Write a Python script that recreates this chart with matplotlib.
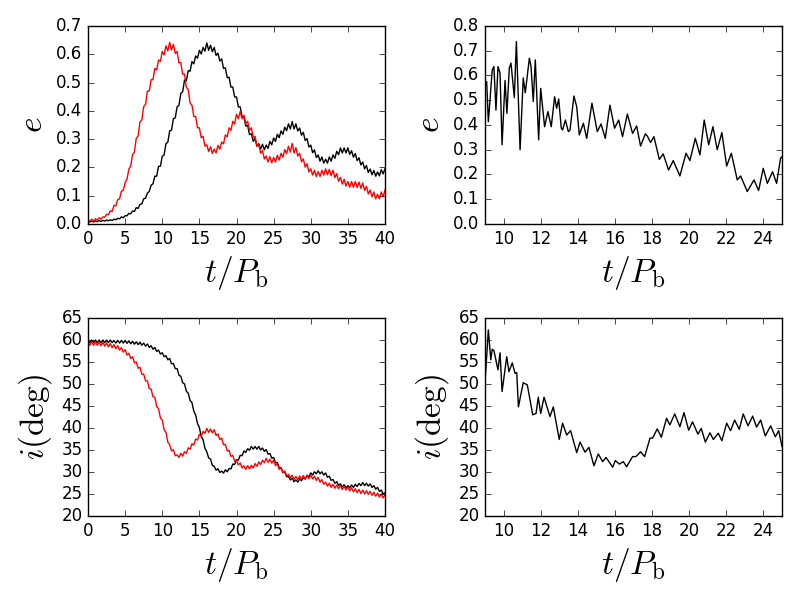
import numpy as np
import matplotlib
matplotlib.use('Agg')
import matplotlib.pyplot as plt

# left column: sampled every 0.25 P_b from 0 to 40
t_long = np.linspace(0, 40, 161)

e_black = [0.010, 0.007, 0.010, 0.007, 0.011, 0.008, 0.012, 0.009,
           0.013, 0.010, 0.014, 0.011, 0.015, 0.012, 0.017, 0.015,
           0.020, 0.018, 0.025, 0.022, 0.029, 0.029, 0.037, 0.036,
           0.046, 0.044, 0.058, 0.055, 0.069, 0.071, 0.089, 0.091,
           0.109, 0.115, 0.137, 0.142, 0.169, 0.169, 0.204, 0.204,
           0.239, 0.244, 0.284, 0.289, 0.329, 0.332, 0.372, 0.375,
           0.414, 0.420, 0.462, 0.467, 0.509, 0.507, 0.542, 0.540,
           0.574, 0.566, 0.594, 0.586, 0.614, 0.601, 0.624, 0.611,
           0.640, 0.614, 0.632, 0.609, 0.624, 0.596, 0.604, 0.576,
           0.584, 0.550, 0.552, 0.517, 0.519, 0.484, 0.484, 0.449,
           0.449, 0.414, 0.414, 0.379, 0.379, 0.346, 0.349, 0.316,
           0.319, 0.292, 0.302, 0.275, 0.284, 0.265, 0.282, 0.262,
           0.279, 0.267, 0.292, 0.280, 0.304, 0.292, 0.317, 0.305,
           0.329, 0.317, 0.342, 0.330, 0.354, 0.336, 0.362, 0.336,
           0.354, 0.329, 0.339, 0.314, 0.324, 0.295, 0.302, 0.272,
           0.279, 0.252, 0.262, 0.235, 0.244, 0.222, 0.237, 0.215,
           0.229, 0.215, 0.237, 0.222, 0.244, 0.232, 0.257, 0.245,
           0.269, 0.251, 0.269, 0.251, 0.269, 0.246, 0.259, 0.236,
           0.249, 0.224, 0.234, 0.209, 0.219, 0.195, 0.207, 0.182,
           0.194, 0.174, 0.189, 0.169, 0.184, 0.170, 0.192, 0.177,
           0.195]

e_red = [0.015, 0.010, 0.017, 0.011, 0.018, 0.014, 0.022, 0.017,
         0.025, 0.024, 0.034, 0.033, 0.046, 0.044, 0.066, 0.064,
         0.086, 0.089, 0.116, 0.119, 0.146, 0.158, 0.194, 0.205,
         0.245, 0.254, 0.303, 0.311, 0.360, 0.368, 0.415, 0.423,
         0.470, 0.470, 0.510, 0.510, 0.550, 0.545, 0.580, 0.575,
         0.610, 0.598, 0.630, 0.612, 0.642, 0.615, 0.635, 0.603,
         0.610, 0.570, 0.570, 0.530, 0.530, 0.483, 0.475, 0.428,
         0.420, 0.380, 0.380, 0.340, 0.340, 0.305, 0.310, 0.275,
         0.280, 0.256, 0.273, 0.249, 0.265, 0.251, 0.278, 0.264,
         0.290, 0.283, 0.315, 0.308, 0.340, 0.331, 0.363, 0.354,
         0.388, 0.372, 0.398, 0.372, 0.385, 0.354, 0.363, 0.331,
         0.340, 0.305, 0.310, 0.275, 0.280, 0.250, 0.260, 0.230,
         0.240, 0.219, 0.238, 0.216, 0.235, 0.219, 0.243, 0.226,
         0.250, 0.236, 0.263, 0.249, 0.275, 0.254, 0.285, 0.251,
         0.270, 0.240, 0.250, 0.220, 0.230, 0.201, 0.213, 0.184,
         0.195, 0.173, 0.190, 0.168, 0.185, 0.168, 0.190, 0.173,
         0.195, 0.174, 0.193, 0.171, 0.190, 0.164, 0.178, 0.151,
         0.165, 0.141, 0.158, 0.134, 0.150, 0.130, 0.150, 0.130,
         0.150, 0.129, 0.148, 0.126, 0.145, 0.119, 0.133, 0.106,
         0.120, 0.096, 0.113, 0.089, 0.105, 0.089, 0.113, 0.096,
         0.120]

inc_black = [60.0, 59.4, 60.0, 59.4, 60.0, 59.4, 60.0, 59.4,
             60.0, 59.4, 60.0, 59.4, 60.0, 59.4, 59.9, 59.3,
             59.9, 59.3, 59.9, 59.3, 59.9, 59.25, 59.8, 59.15,
             59.7, 59.05, 59.6, 58.95, 59.5, 58.8, 59.3, 58.6,
             59.1, 58.3, 58.7, 57.9, 58.3, 57.4, 57.7, 56.8,
             57.1, 56.2, 56.45, 55.5, 55.8, 54.6, 54.65, 53.5,
             53.5, 52.0, 51.75, 50.3, 50.0, 48.35, 47.9, 46.25,
             45.8, 43.8, 42.95, 41.0, 40.1, 38.1, 37.35, 35.4,
             34.6, 33.2, 32.95, 31.5, 31.3, 30.4, 30.75, 29.9,
             30.2, 29.75, 30.5, 30.05, 30.8, 30.7, 31.8, 31.7,
             32.8, 32.7, 33.8, 33.7, 34.8, 34.45, 35.3, 34.95,
             35.8, 35.2, 35.8, 35.2, 35.8, 35.0, 35.45, 34.7,
             35.1, 34.05, 34.2, 33.15, 33.3, 32.1, 32.15, 30.95,
             31.0, 29.9, 30.0, 28.9, 29.0, 28.2, 28.6, 27.8,
             28.2, 27.7, 28.45, 28.0, 28.7, 28.4, 29.25, 28.9,
             29.8, 29.3, 30.05, 29.6, 30.3, 29.6, 30.05, 29.3,
             29.8, 28.8, 29.05, 28.1, 28.3, 27.45, 27.8, 26.95,
             27.3, 26.6, 27.1, 26.4, 26.9, 26.4, 27.05, 26.5,
             27.2, 26.7, 27.4, 26.9, 27.6, 26.9, 27.45, 26.8,
             27.3, 26.5, 26.9, 26.1, 26.5, 25.6, 25.9, 25.0,
             25.3]

inc_red = [59.6, 58.8, 59.6, 58.8, 59.6, 58.8, 59.55, 58.7,
           59.5, 58.6, 59.35, 58.45, 59.2, 58.25, 58.95, 58.0,
           58.7, 57.7, 58.25, 57.25, 57.8, 56.6, 57.0, 55.8,
           56.2, 54.8, 55.0, 53.6, 53.8, 52.2, 52.25, 50.7,
           50.7, 48.95, 48.85, 47.1, 47.0, 44.9, 44.4, 42.3,
           41.8, 39.6, 39.0, 36.8, 36.2, 34.8, 35.05, 33.7,
           33.9, 33.3, 34.25, 33.6, 34.6, 34.25, 35.5, 35.2,
           36.4, 36.15, 37.5, 37.25, 38.6, 38.1, 39.25, 38.8,
           39.9, 39.0, 39.75, 38.9, 39.6, 38.3, 38.65, 37.4,
           37.7, 36.2, 36.3, 34.8, 34.9, 33.55, 33.8, 32.45,
           32.7, 31.6, 32.05, 30.9, 31.4, 30.6, 31.45, 30.7,
           31.5, 30.9, 31.9, 31.3, 32.3, 31.7, 32.7, 32.1,
           33.1, 32.2, 32.9, 32.0, 32.7, 31.45, 31.85, 30.6,
           31.0, 29.8, 30.25, 29.1, 29.5, 28.6, 29.25, 28.3,
           29.0, 28.25, 29.1, 28.35, 29.2, 28.4, 29.25, 28.45,
           29.3, 28.4, 29.05, 28.1, 28.8, 27.7, 28.25, 27.2,
           27.7, 26.8, 27.45, 26.5, 27.2, 26.3, 27.05, 26.2,
           26.9, 26.0, 26.75, 25.9, 26.6, 25.7, 26.4, 25.5,
           26.2, 25.3, 26.05, 25.1, 25.9, 25.0, 25.75, 24.9,
           25.6, 24.7, 25.4, 24.5, 25.2, 24.3, 25.0, 24.1,
           24.8]

# right column: zoom on 9 < t < 25
t_e = [9.0, 9.09, 9.18, 9.39, 9.48, 9.59, 9.70, 9.81, 9.92, 10.08, 10.18,
       10.31, 10.40, 10.58, 10.69, 10.89, 11.06, 11.17, 11.39, 11.48, 11.60,
       11.71, 11.89, 12.00, 12.21, 12.39, 12.57, 12.75, 12.86, 12.97, 13.11,
       13.18, 13.33, 13.49, 13.58, 13.79, 13.94, 14.08, 14.30, 14.48, 14.76,
       15.05, 15.25, 15.48, 15.73, 15.98, 16.20, 16.41, 16.67, 16.95, 17.17,
       17.38, 17.64, 17.74, 17.92, 18.10, 18.39, 18.60, 18.89, 19.14, 19.50,
       19.83, 20.04, 20.33, 20.58, 20.81, 21.05, 21.28, 21.51, 21.76, 22.02,
       22.27, 22.59, 22.77, 23.13, 23.49, 23.74, 23.99, 24.21, 24.49, 24.71,
       24.92, 25.0]
e_zoom = [0.575, 0.575, 0.413, 0.622, 0.636, 0.46, 0.636, 0.61, 0.32, 0.58,
          0.447, 0.63, 0.65, 0.51, 0.737, 0.30, 0.59, 0.53, 0.67, 0.636,
          0.495, 0.663, 0.34, 0.548, 0.393, 0.454, 0.393, 0.514, 0.467,
          0.505, 0.387, 0.38, 0.42, 0.373, 0.38, 0.517, 0.474, 0.36, 0.407,
          0.346, 0.488, 0.373, 0.404, 0.346, 0.48, 0.387, 0.42, 0.353,
          0.444, 0.366, 0.396, 0.315, 0.364, 0.356, 0.329, 0.353, 0.261,
          0.283, 0.218, 0.256, 0.194, 0.286, 0.256, 0.346, 0.279, 0.42,
          0.32, 0.393, 0.30, 0.369, 0.234, 0.286, 0.178, 0.194, 0.131,
          0.178, 0.135, 0.225, 0.164, 0.211, 0.164, 0.265, 0.272]

t_i = [9.0, 9.18, 9.31, 9.39, 9.48, 9.70, 9.81, 9.92, 10.17, 10.29, 10.47,
       10.62, 10.71, 10.80, 10.89, 11.06, 11.28, 11.57, 11.75, 11.87, 12.00,
       12.18, 12.50, 12.68, 13.00, 13.18, 13.40, 13.61, 13.94, 14.12, 14.39,
       14.60, 14.87, 15.10, 15.34, 15.52, 15.88, 16.02, 16.24, 16.45, 16.63,
       16.95, 17.13, 17.38, 17.60, 17.89, 18.03, 18.28, 18.50, 18.78, 18.96,
       19.22, 19.50, 19.72, 19.97, 20.18, 20.47, 20.65, 20.87, 21.12, 21.30,
       21.57, 21.76, 22.02, 22.23, 22.45, 22.70, 22.91, 23.17, 23.42, 23.63,
       23.85, 24.10, 24.39, 24.64, 24.82, 25.0]
inc_zoom = [50.2, 62.3, 55.5, 57.9, 57.6, 53.2, 57.1, 48.3, 56.2, 52.8, 54.8,
            52.4, 52.6, 44.8, 46.7, 50.3, 49.8, 43.0, 43.3, 47.0, 43.3, 47.0,
            42.6, 44.8, 37.4, 41.1, 38.4, 39.4, 34.4, 36.8, 34.5, 35.6, 31.4,
            34.1, 32.35, 33.3, 31.1, 32.6, 31.8, 32.35, 31.2, 33.5, 33.5,
            34.6, 33.5, 37.7, 37.7, 39.8, 37.9, 42.2, 40.7, 43.2, 40.3, 43.5,
            39.5, 41.4, 38.6, 39.9, 36.8, 38.9, 37.4, 38.8, 37.1, 41.1, 39.4,
            41.8, 39.7, 43.2, 40.5, 42.7, 40.2, 41.8, 38.2, 40.5, 38.0, 39.4,
            35.8]

plt.style.use('classic')
plt.rcParams['mathtext.fontset'] = 'cm'
plt.rcParams['figure.facecolor'] = 'white'
plt.rcParams['savefig.facecolor'] = 'white'

fig = plt.figure(figsize=(8, 6), dpi=100)
w, h = 0.37125, 0.33
ax1 = fig.add_axes([0.11, 0.6267, w, h])
ax2 = fig.add_axes([0.60625, 0.6267, w, h])
ax3 = fig.add_axes([0.11, 0.14, w, h])
ax4 = fig.add_axes([0.60625, 0.14, w, h])

ax1.plot(t_long, e_black, 'k', lw=1.0)
ax1.plot(t_long, e_red, 'r', lw=1.0)
ax1.set_xlim(0, 40)
ax1.set_ylim(0, 0.7)
ax1.set_ylabel(r'$e$', fontsize=24)

ax2.plot(t_e, e_zoom, 'k', lw=1.0)
ax2.set_xlim(9, 25)
ax2.set_ylim(0, 0.8)
ax2.set_xticks(np.arange(10, 25, 2))
ax2.set_ylabel(r'$e$', fontsize=24)

ax3.plot(t_long, inc_black, 'k', lw=1.0)
ax3.plot(t_long, inc_red, 'r', lw=1.0)
ax3.set_xlim(0, 40)
ax3.set_ylim(20, 65)
ax3.set_ylabel(r'$i({\rm deg})$', fontsize=24)

ax4.plot(t_i, inc_zoom, 'k', lw=1.0)
ax4.set_xlim(9, 25)
ax4.set_ylim(20, 65)
ax4.set_xticks(np.arange(10, 25, 2))
ax4.set_ylabel(r'$i({\rm deg})$', fontsize=24)

for ax in (ax1, ax2, ax3, ax4):
    ax.set_xlabel(r'$t/P_{\rm b}$', fontsize=24)
    ax.tick_params(labelsize=12)

fig.savefig('out.png', dpi=100)
